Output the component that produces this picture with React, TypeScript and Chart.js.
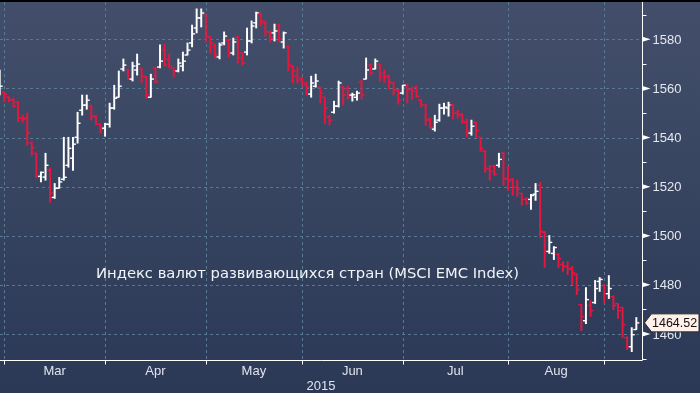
import React, { useEffect, useRef } from 'react';
import { Chart, registerables } from 'chart.js';

Chart.register(...registerables);

// Trading-day index of first bar (last session of February = -1, Mar 2 = 0)
const firstBarIndex = -1;

const opens = [
  1558.1, 1558.5, 1556.4, 1555.2, 1554.4, 1547.9, 1547.9, 1537.8, 1533.6, 1524.2,
  1523.9, 1526.7, 1515.6, 1519.4, 1523.0, 1528.7, 1531.6, 1540.1, 1551.1, 1553.2,
  1552.8, 1548.7, 1545.4, 1543.8, 1545.4, 1552.0, 1556.4, 1567.9, 1567.5, 1563.8,
  1567.5, 1567.9, 1564.6, 1556.4, 1568.3, 1568.7, 1575.6, 1571.9, 1568.3, 1567.1,
  1569.1, 1573.6, 1578.5, 1584.6, 1588.7, 1589.9, 1580.9, 1577.3, 1572.8, 1578.5,
  1579.7, 1574.4, 1580.9, 1574.4, 1574.8, 1579.3, 1586.7, 1590.3, 1586.7, 1583.0,
  1582.6, 1585.8, 1578.9, 1576.9, 1569.1, 1565.0, 1564.2, 1561.3, 1557.7, 1560.9,
  1560.5, 1556.4, 1548.3, 1550.3, 1552.8, 1560.5, 1560.0, 1557.3, 1556.4, 1562.6,
  1563.8, 1569.5, 1567.9, 1569.9, 1566.2, 1565.0, 1562.2, 1559.3, 1558.1, 1560.5,
  1559.7, 1560.5, 1555.2, 1553.2, 1547.5, 1543.4, 1547.1, 1552.0, 1552.0, 1553.2,
  1549.9, 1549.5, 1546.2, 1541.8, 1546.2, 1540.1, 1534.4, 1527.1, 1528.3, 1528.7,
  1533.6, 1523.0, 1523.0, 1519.7, 1517.3, 1514.8, 1514.8, 1516.9, 1520.5, 1501.4,
  1493.6, 1492.8, 1492.4, 1488.3, 1487.5, 1486.7, 1484.2, 1472.0, 1465.4, 1471.6,
  1472.8, 1481.4, 1479.7, 1476.4, 1475.2, 1472.4, 1470.8, 1458.5, 1454.8, 1461.8,
];
const highs = [
  1567.5, 1558.6, 1556.6, 1556.0, 1554.5, 1549.1, 1550.0, 1538.2, 1533.7, 1526.0,
  1533.6, 1527.5, 1521.3, 1523.8, 1540.1, 1540.1, 1540.1, 1550.3, 1557.3, 1557.3,
  1553.2, 1549.1, 1545.4, 1545.8, 1554.0, 1561.3, 1567.1, 1572.0, 1567.9, 1570.7,
  1574.0, 1568.3, 1565.0, 1565.8, 1568.7, 1577.7, 1578.1, 1574.0, 1568.3, 1572.0,
  1574.8, 1578.5, 1585.8, 1592.4, 1592.4, 1589.9, 1581.3, 1578.1, 1578.5, 1583.0,
  1580.1, 1580.5, 1581.3, 1574.4, 1584.6, 1587.5, 1591.1, 1590.7, 1587.5, 1583.4,
  1586.2, 1586.2, 1583.0, 1577.3, 1569.5, 1568.7, 1564.6, 1562.6, 1565.0, 1565.8,
  1560.5, 1556.4, 1549.1, 1554.8, 1563.0, 1560.9, 1560.9, 1558.1, 1558.9, 1563.4,
  1572.4, 1569.9, 1572.0, 1569.9, 1567.5, 1565.4, 1562.6, 1559.7, 1561.3, 1561.7,
  1560.5, 1560.9, 1555.6, 1553.6, 1547.9, 1549.1, 1553.6, 1554.0, 1554.4, 1553.6,
  1551.1, 1549.9, 1547.5, 1547.1, 1546.2, 1540.1, 1534.8, 1528.7, 1528.7, 1533.6,
  1534.0, 1528.3, 1523.4, 1522.6, 1517.3, 1515.6, 1516.9, 1521.3, 1521.7, 1501.8,
  1500.1, 1495.6, 1492.8, 1489.5, 1489.5, 1487.5, 1484.6, 1472.0, 1478.9, 1473.6,
  1481.8, 1483.0, 1480.1, 1483.8, 1475.6, 1472.4, 1470.8, 1458.9, 1462.6, 1466.7,
];
const lows = [
  1557.3, 1554.5, 1554.5, 1552.4, 1546.4, 1546.2, 1536.9, 1532.8, 1523.7, 1521.9,
  1522.6, 1513.6, 1515.2, 1519.3, 1522.6, 1527.9, 1526.6, 1537.7, 1549.1, 1551.5,
  1547.1, 1545.4, 1541.8, 1540.5, 1544.2, 1551.5, 1556.4, 1567.1, 1563.8, 1563.0,
  1565.4, 1562.2, 1556.0, 1556.4, 1562.2, 1568.3, 1569.1, 1568.3, 1564.6, 1566.7,
  1567.1, 1573.6, 1576.9, 1582.6, 1585.0, 1578.9, 1574.4, 1572.4, 1572.0, 1577.7,
  1572.8, 1573.6, 1570.3, 1569.5, 1573.6, 1578.5, 1584.6, 1585.4, 1581.3, 1578.9,
  1579.3, 1578.9, 1576.4, 1567.1, 1562.2, 1562.2, 1560.9, 1557.3, 1556.4, 1560.5,
  1554.0, 1545.8, 1545.0, 1549.9, 1552.4, 1553.2, 1555.6, 1554.8, 1555.2, 1555.6,
  1563.8, 1565.4, 1567.9, 1563.0, 1562.6, 1559.7, 1557.3, 1553.6, 1557.7, 1554.0,
  1555.6, 1556.4, 1552.4, 1545.0, 1543.8, 1542.6, 1546.6, 1549.5, 1548.7, 1547.5,
  1547.9, 1545.8, 1540.1, 1540.9, 1540.1, 1534.4, 1525.8, 1522.6, 1524.6, 1527.9,
  1520.5, 1518.5, 1516.5, 1516.0, 1512.4, 1512.8, 1510.7, 1514.4, 1499.3, 1487.1,
  1492.8, 1490.3, 1487.1, 1485.4, 1484.2, 1480.1, 1476.0, 1461.3, 1464.2, 1467.1,
  1472.4, 1477.3, 1472.8, 1474.4, 1469.9, 1466.3, 1458.6, 1453.6, 1452.8, 1461.8,
];
const closes = [
  1560.9, 1557.6, 1555.2, 1552.8, 1547.9, 1547.5, 1541.8, 1535.9, 1523.9, 1525.8,
  1528.7, 1517.4, 1519.3, 1521.9, 1523.8, 1535.6, 1537.3, 1545.8, 1553.2, 1555.2,
  1548.3, 1545.4, 1543.4, 1545.4, 1552.0, 1556.0, 1560.9, 1569.5, 1563.8, 1569.1,
  1569.9, 1565.0, 1557.3, 1563.8, 1562.6, 1571.1, 1569.5, 1569.1, 1567.1, 1570.3,
  1571.1, 1575.6, 1582.2, 1588.7, 1590.7, 1581.3, 1578.5, 1573.6, 1577.7, 1581.3,
  1574.4, 1578.9, 1572.4, 1570.3, 1579.3, 1585.4, 1590.7, 1587.5, 1583.0, 1580.5,
  1583.4, 1580.1, 1582.6, 1569.9, 1567.1, 1563.4, 1562.2, 1560.5, 1562.2, 1563.0,
  1558.1, 1552.0, 1547.1, 1552.8, 1562.2, 1557.3, 1556.4, 1557.4, 1558.1, 1557.3,
  1567.5, 1566.2, 1571.1, 1565.0, 1564.6, 1562.6, 1559.3, 1555.2, 1561.3, 1559.3,
  1558.9, 1556.8, 1553.2, 1547.1, 1544.2, 1546.2, 1552.0, 1552.4, 1553.2, 1549.9,
  1549.1, 1546.6, 1542.6, 1544.6, 1543.0, 1535.6, 1527.5, 1526.3, 1525.0, 1531.1,
  1523.4, 1522.2, 1519.7, 1518.9, 1514.8, 1513.2, 1516.4, 1518.1, 1501.8, 1493.6,
  1497.3, 1495.2, 1490.7, 1487.5, 1486.3, 1485.0, 1478.1, 1467.1, 1474.0, 1469.5,
  1478.5, 1482.2, 1476.4, 1478.5, 1471.6, 1469.5, 1463.8, 1454.8, 1459.7, 1464.52,
];

const monthLabels = ['Mar', 'Apr', 'May', 'Jun', 'Jul', 'Aug'];
// trading-day index at which each month starts (Mar .. Sep)
const monthStartIdx = [0, 22, 44, 65, 87, 110, 131];
const yearLabel = '2015';
const yMajorTicks = [1460, 1480, 1500, 1520, 1540, 1560, 1580];
const yMinorTicks = [1450, 1470, 1490, 1510, 1530, 1550, 1570, 1590];
const titleText = 'Индекс валют развивающихся стран (MSCI EMC Index)';
const lastPriceLabel = '1464.52';

const UP = '#ffffff';
const DOWN = '#e5173f';
const GRID = '#5a7894';

const xs = closes.map((_, i) => i + firstBarIndex);
const colors = closes.map((c, i) => (c >= opens[i] ? UP : DOWN));

const decorPlugin = {
  id: 'decor',
  beforeDraw(chart: any) {
    const { ctx, width, height, chartArea: a } = chart;
    const x = chart.scales.x;
    const y = chart.scales.y;
    ctx.save();
    const g = ctx.createLinearGradient(0, 0, 0, height);
    g.addColorStop(0, '#434f6a');
    g.addColorStop(0.55, '#36435f');
    g.addColorStop(1, '#2b3856');
    ctx.fillStyle = g;
    ctx.fillRect(0, 0, width, height);
    ctx.fillStyle = '#000';
    ctx.fillRect(0, 0, width, 2);

    ctx.strokeStyle = GRID;
    ctx.lineWidth = 1;
    ctx.setLineDash([3, 3]);
    yMajorTicks.forEach((v) => {
      const py = Math.round(y.getPixelForValue(v)) + 0.5;
      ctx.beginPath();
      ctx.moveTo(a.left, py);
      ctx.lineTo(a.right, py);
      ctx.stroke();
    });
    monthStartIdx.forEach((k) => {
      const px = Math.round(x.getPixelForValue(k)) + 0.5;
      ctx.beginPath();
      ctx.moveTo(px, a.top + 2);
      ctx.lineTo(px, a.bottom);
      ctx.stroke();
    });
    ctx.restore();
  },
  afterDraw(chart: any) {
    const { ctx, chartArea: a } = chart;
    const x = chart.scales.x;
    const y = chart.scales.y;
    ctx.save();
    ctx.setLineDash([]);
    ctx.strokeStyle = '#ffffff';
    ctx.fillStyle = '#ffffff';
    ctx.lineWidth = 1;
    const rx = Math.round(a.right) + 0.5;
    const by = Math.round(a.bottom) + 0.5;
    ctx.beginPath();
    ctx.moveTo(rx, 2);
    ctx.lineTo(rx, by);
    ctx.lineTo(0, by);
    ctx.stroke();

    // minor y ticks
    yMinorTicks.forEach((v) => {
      const py = Math.round(y.getPixelForValue(v)) + 0.5;
      ctx.beginPath();
      ctx.moveTo(rx, py);
      ctx.lineTo(rx + 4, py);
      ctx.stroke();
    });
    // major y ticks (arrows) + labels
    ctx.font = '13px "Liberation Sans", Arial, sans-serif';
    ctx.textBaseline = 'middle';
    ctx.textAlign = 'left';
    yMajorTicks.forEach((v) => {
      const py = y.getPixelForValue(v);
      ctx.fillStyle = '#ffffff';
      ctx.beginPath();
      ctx.moveTo(rx, py - 2.5);
      ctx.lineTo(rx + 8, py);
      ctx.lineTo(rx, py + 2.5);
      ctx.closePath();
      ctx.fill();
      ctx.fillStyle = '#e4e8ef';
      ctx.fillText(String(v), rx + 10, py + 1);
    });

    // x ticks and month labels
    monthStartIdx.forEach((k) => {
      const px = Math.round(x.getPixelForValue(k)) + 0.5;
      ctx.beginPath();
      ctx.moveTo(px, by);
      ctx.lineTo(px, by + 4);
      ctx.stroke();
    });
    ctx.fillStyle = '#dfe4ec';
    ctx.textAlign = 'center';
    ctx.font = '13px "Liberation Sans", Arial, sans-serif';
    monthLabels.forEach((m, i) => {
      const p0 = x.getPixelForValue(monthStartIdx[i]);
      const p1 = x.getPixelForValue(monthStartIdx[i + 1]);
      ctx.fillText(m, (p0 + p1) / 2, by + 10.5);
    });
    ctx.fillText(yearLabel, (a.left + a.right) / 2, by + 25.5);

    // title inside the plot
    ctx.textAlign = 'left';
    ctx.fillStyle = '#f2f4f7';
    ctx.font = '14.75px "DejaVu Sans", sans-serif';
    ctx.fillText(titleText, 96, 274);

    // last price marker
    const lp = y.getPixelForValue(closes[closes.length - 1]);
    const bx = rx + 2;
    ctx.beginPath();
    ctx.moveTo(bx, lp);
    ctx.lineTo(bx + 7, lp - 9);
    ctx.lineTo(699, lp - 9);
    ctx.lineTo(699, lp + 9);
    ctx.lineTo(bx + 7, lp + 9);
    ctx.closePath();
    ctx.fillStyle = '#fff1e9';
    ctx.fill();
    ctx.strokeStyle = '#2a2a2a';
    ctx.stroke();
    ctx.fillStyle = '#111111';
    ctx.font = '12.5px "Liberation Sans", Arial, sans-serif';
    ctx.fillText(lastPriceLabel, bx + 7.5, lp + 1);
    ctx.restore();
  },
};

export default function App() {
  const ref = useRef<HTMLCanvasElement>(null);
  useEffect(() => {
    if (!ref.current) return;
    const chart = new Chart(ref.current, {
      type: 'bar',
      data: {
        datasets: [
          {
            type: 'bar',
            data: xs.map((k, i) => ({ x: k, y: [lows[i], highs[i]] })) as any,
            backgroundColor: colors,
            borderWidth: 0,
            barThickness: 1.3,
            borderSkipped: false,
          } as any,
          {
            type: 'scatter',
            data: xs.map((k, i) => ({ x: k, y: opens[i] })),
            pointStyle: 'dash',
            pointRotation: 180,
            pointRadius: 3,
            pointBorderWidth: 1.4,
            pointBorderColor: colors,
            pointBackgroundColor: colors,
          } as any,
          {
            type: 'scatter',
            data: xs.map((k, i) => ({ x: k, y: closes[i] })),
            pointStyle: 'dash',
            pointRotation: 0,
            pointRadius: 3,
            pointBorderWidth: 1.4,
            pointBorderColor: colors,
            pointBackgroundColor: colors,
          } as any,
        ],
      },
      options: {
        animation: false,
        responsive: true,
        maintainAspectRatio: false,
        events: [],
        layout: { autoPadding: false, padding: { left: 0, top: 0, right: 58, bottom: 33 } },
        plugins: { legend: { display: false }, tooltip: { enabled: false } },
        scales: {
          x: { type: 'linear', display: false, min: -0.939, max: 139.24, offset: false },
          y: { type: 'linear', display: false, min: 1449.4, max: 1596.0 },
        },
      },
      plugins: [decorPlugin],
    } as any);
    return () => chart.destroy();
  }, []);
  return (
    <div style={{ position: 'fixed', left: 0, top: 0, width: 700, height: 393 }}>
      <canvas ref={ref} style={{ display: 'block' }} />
    </div>
  );
}
